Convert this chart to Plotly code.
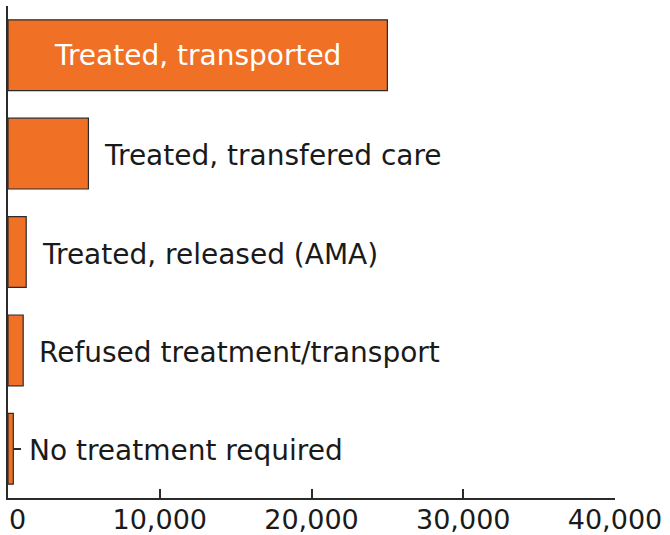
import plotly.graph_objects as go

categories = ["Treated, transported", "Treated, transfered care", "Treated, released (AMA)",
              "Refused treatment/transport", "No treatment required"]
values = [25000, 5300, 1200, 1000, 350]
inside_label = [True, False, False, False, False]
tick_vals = [0, 10000, 20000, 30000, 40000]
tick_text = ["0", "10,000", "20,000", "30,000", "40,000"]

FONT = "DejaVu Sans"
ORANGE = "#F07026"
DARK = "#2b2b2b"
TXT = "#1a1a1a"

fig = go.Figure()
fig.add_trace(go.Bar(
    y=categories, x=values, orientation="h",
    marker=dict(color=ORANGE, line=dict(color=DARK, width=1.2)),
    text=[c if ins else "" for c, ins in zip(categories, inside_label)],
    textposition="inside", insidetextanchor="middle",
    textfont=dict(family=FONT, size=28, color="white"),
    hoverinfo="skip",
))

for c, v, ins in zip(categories, values, inside_label):
    if not ins:
        fig.add_annotation(x=v, y=c, text=c, showarrow=False, xanchor="left",
                           xshift=14, yshift=-2,
                           font=dict(family=FONT, size=28, color=TXT))

# the first tick label sits to the right of the zero line, as in the original
fig.add_annotation(x=tick_vals[0], y=0, xref="x", yref="paper", text=tick_text[0],
                   showarrow=False, xanchor="left", yanchor="middle", xshift=-1, yshift=-21,
                   font=dict(family=FONT, size=27, color=TXT))

fig.update_layout(
    width=670, height=535,
    margin=dict(l=8, r=55, t=6, b=37, autoexpand=False),
    plot_bgcolor="white", paper_bgcolor="white",
    bargap=0.28, showlegend=False,
    font=dict(family=FONT, color=TXT),
)
fig.update_xaxes(range=[0, 40000], tickvals=tick_vals[1:], ticktext=tick_text[1:],
                 showgrid=False, zeroline=False, showline=True, linecolor=DARK, linewidth=2,
                 ticks="inside", ticklen=9, tickwidth=2, tickcolor=DARK,
                 ticklabelstandoff=-3, automargin=False, ticklabeloverflow="allow",
                 tickfont=dict(family=FONT, size=27, color=TXT), fixedrange=True)
fig.update_yaxes(autorange="reversed", showticklabels=False, showgrid=False, zeroline=False,
                 showline=True, linecolor=DARK, linewidth=2,
                 ticks="inside", ticklen=13, tickwidth=2, tickcolor=DARK,
                 layer="below traces", automargin=False, fixedrange=True)

fig.write_html("out.html", config={"displayModeBar": False},
               post_script="document.body.style.margin='0';document.body.style.overflow='hidden';")
